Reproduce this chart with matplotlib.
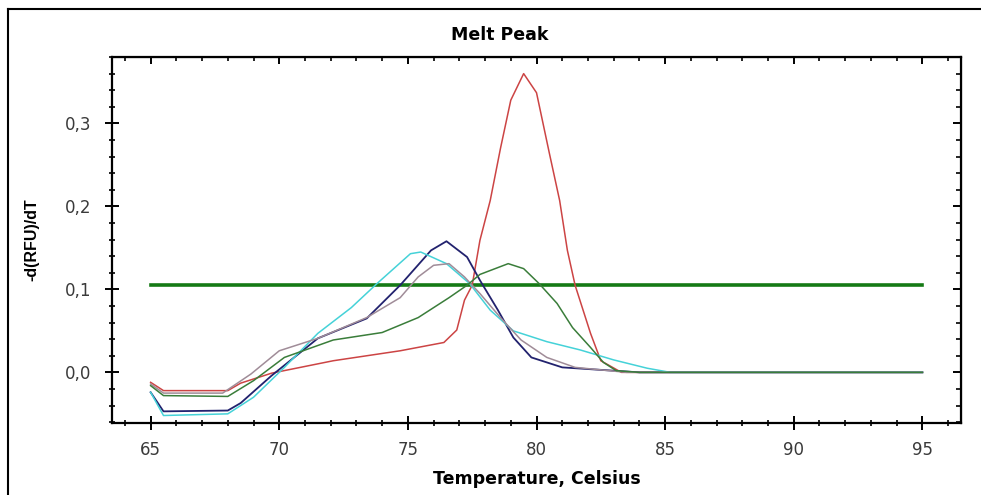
# Melt peak curves, recreated with matplotlib
import matplotlib.pyplot as plt
from matplotlib.lines import Line2D
from matplotlib.ticker import MultipleLocator, FuncFormatter

# curves: temperature (Celsius) and -d(RFU)/dT
red_t = [65, 65.5, 68, 68.5, 69.7, 72.1, 74.7, 76.4, 76.9, 77.2, 77.5, 77.8, 78.2,
         78.6, 79.0, 79.5, 80.0, 80.5, 80.9, 81.2, 81.5, 82.1, 82.5, 83.3, 95]
red_v = [-0.012, -0.022, -0.022, -0.013, -0.001, 0.014, 0.026, 0.036, 0.051, 0.087,
         0.105, 0.159, 0.207, 0.27, 0.328, 0.36, 0.337, 0.264, 0.207, 0.147, 0.105,
         0.047, 0.014, 0.0, 0.0]

navy_t = [65, 65.5, 68, 68.5, 69.7, 71.5, 73.4, 74.7, 75.9, 76.5, 77.3, 77.8, 78.5,
          79.1, 79.8, 81.0, 83.0, 84.0, 95]
navy_v = [-0.024, -0.047, -0.046, -0.037, -0.004, 0.041, 0.065, 0.105, 0.147, 0.158,
          0.139, 0.111, 0.075, 0.042, 0.018, 0.006, 0.002, 0.0, 0.0]

cyan_t = [65, 65.5, 68, 69, 70.2, 71.5, 72.8, 73.8, 75.1, 75.5, 76.5, 77.4, 78.2,
          79.1, 80.4, 81.7, 83.0, 84.3, 85.2, 95]
cyan_v = [-0.024, -0.052, -0.05, -0.03, 0.006, 0.047, 0.078, 0.107, 0.143, 0.145,
          0.131, 0.107, 0.075, 0.05, 0.037, 0.027, 0.015, 0.005, 0.0, 0.0]

gray_t = [65, 65.5, 67.8, 68.9, 70, 71.5, 73.4, 74.7, 75.4, 76.0, 76.6, 77.2, 77.8,
          78.6, 79.4, 80.4, 81.5, 83.5, 95]
gray_v = [-0.014, -0.025, -0.025, -0.002, 0.026, 0.041, 0.066, 0.09, 0.115, 0.129,
          0.131, 0.115, 0.095, 0.066, 0.039, 0.018, 0.006, 0.0, 0.0]

green_t = [65, 65.5, 68, 69, 70.2, 72.1, 74, 75.4, 76.6, 77.3, 77.8, 78.9, 79.5,
           80.1, 80.8, 81.4, 82.1, 82.6, 83.1, 84, 95]
green_v = [-0.016, -0.028, -0.029, -0.01, 0.018, 0.039, 0.048, 0.066, 0.09, 0.105,
           0.118, 0.131, 0.125, 0.107, 0.083, 0.054, 0.03, 0.012, 0.002, 0.0, 0.0]

threshold_t = [65, 95]
threshold_v = [0.105, 0.105]

fig = plt.figure(figsize=(9.81, 4.95), dpi=100)
ax = fig.add_axes([0.1142, 0.1455, 0.8654, 0.7393])

ax.plot(threshold_t, threshold_v, color='#157a15', lw=2.6, zorder=1.5)
ax.plot(red_t, red_v, color='#cc4444', lw=1.1)
ax.plot(navy_t, navy_v, color='#22226e', lw=1.3)
ax.plot(cyan_t, cyan_v, color='#45d2d8', lw=1.1)
ax.plot(gray_t, gray_v, color='#a08c98', lw=1.1)
ax.plot(green_t, green_v, color='#3a7d3a', lw=1.1)

ax.set_xlim(63.5, 96.5)
ax.set_ylim(-0.061, 0.38)

ax.xaxis.set_major_locator(MultipleLocator(5))
ax.xaxis.set_minor_locator(MultipleLocator(1))
ax.yaxis.set_major_locator(MultipleLocator(0.1))
ax.yaxis.set_minor_locator(MultipleLocator(0.02))
ax.yaxis.set_major_formatter(FuncFormatter(lambda v, p: f"{v:.1f}".replace('.', ',').replace('-0,0', '0,0')))

for s in ax.spines.values():
    s.set_linewidth(1.6)

ax.tick_params(which='major', direction='inout', length=10, width=1.4,
               labelsize=12, labelcolor='#3a3a3a', pad=8)
ax.tick_params(axis='y', which='major', pad=10)
ax.tick_params(which='minor', direction='inout', length=5, width=1.2)
for lab in ax.get_xticklabels() + ax.get_yticklabels():
    lab.set_family('DejaVu Sans')

# inward ticks on the top and right
top = ax.secondary_xaxis('top')
top.xaxis.set_major_locator(MultipleLocator(5))
top.xaxis.set_minor_locator(MultipleLocator(1))
top.tick_params(which='major', direction='in', length=5, width=1.4, labeltop=False)
top.tick_params(which='minor', direction='in', length=3, width=1.2)
right = ax.secondary_yaxis('right')
right.yaxis.set_major_locator(MultipleLocator(0.1))
right.yaxis.set_minor_locator(MultipleLocator(0.02))
right.tick_params(which='major', direction='in', length=6, width=1.4, labelright=False)
right.tick_params(which='minor', direction='in', length=3.5, width=1.2)

ax.set_xlabel('Temperature, Celsius', fontsize=12.5, fontweight='bold',
              family='DejaVu Sans', labelpad=8)
ax.set_ylabel('-d(RFU)/dT', fontsize=11.5, fontweight='bold',
              family='Liberation Sans', labelpad=18)
fig.text(500 / 981, 1 - 35 / 495, 'Melt Peak', ha='center', va='center',
         fontsize=12.5, fontweight='bold', family='DejaVu Sans')

# outer frame, top and left edges
fig.add_artist(Line2D([8 / 981, 8 / 981], [0, 1 - 9 / 495], color='black', lw=1.5,
                      transform=fig.transFigure))
fig.add_artist(Line2D([8 / 981, 1], [1 - 9 / 495, 1 - 9 / 495], color='black', lw=1.5,
                      transform=fig.transFigure))

fig.savefig('out.png', dpi=100)
